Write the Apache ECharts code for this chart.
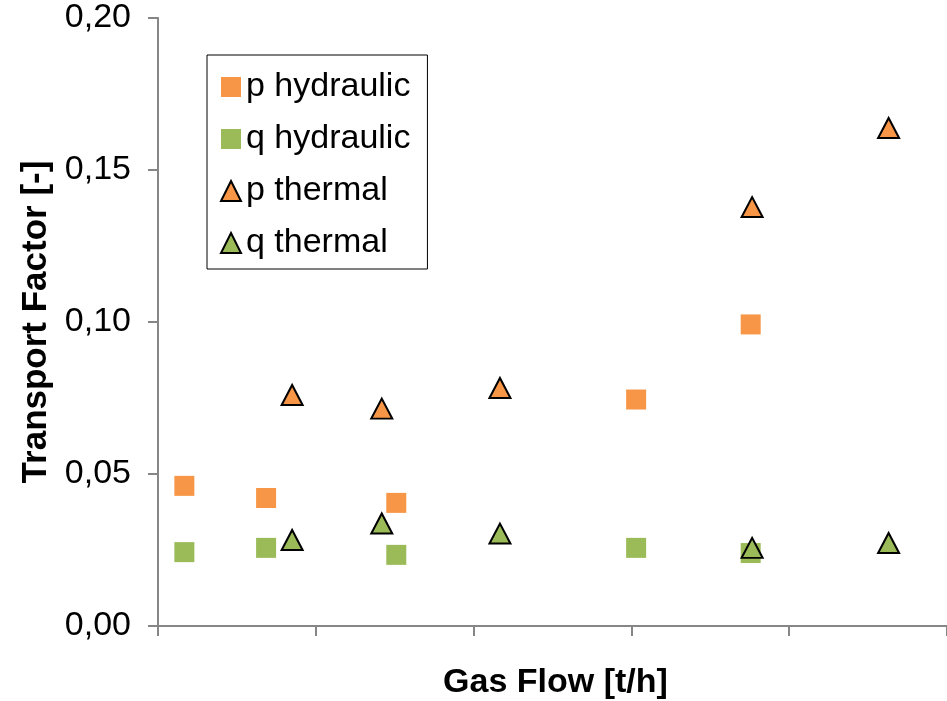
<!DOCTYPE html>
<html>
<head>
<meta charset="utf-8">
<script src="https://cdn.jsdelivr.net/npm/echarts@6/dist/echarts.min.js"></script>
<style>
html,body{margin:0;padding:0;background:#fff;}
#chart{width:947px;height:701px;}
</style>
</head>
<body>
<div id="chart"></div>
<script>
var seriesNames = ['p hydraulic', 'q hydraulic', 'p thermal', 'q thermal'];
var hydraulicX = [0.167, 0.685, 1.51, 3.03, 3.756];
var pHydraulic = [0.0461, 0.0421, 0.0405, 0.0745, 0.0992];
var qHydraulic = [0.0243, 0.0257, 0.0234, 0.0257, 0.0240];
var thermalX = [0.85, 1.418, 2.167, 3.765, 4.63];
var pThermal = [0.0760, 0.0715, 0.0783, 0.1378, 0.1638];
var qThermal = [0.0283, 0.0337, 0.0304, 0.0257, 0.0273];
var yTicks = ['0,00', '0,05', '0,10', '0,15', '0,20'];

function pairs(xs, ys) { return xs.map(function (x, i) { return [x, ys[i]]; }); }

var FONT = '"Liberation Sans", Arial, sans-serif';
var ORANGE = '#F79646', GREEN = '#9BBB59';

var chart = echarts.init(document.getElementById('chart'));
chart.setOption({
  animation: false,
  backgroundColor: '#fff',
  grid: { left: 158, right: 0, top: 18, bottom: 75, containLabel: false, outerBoundsMode: 'none' },
  legend: {
    orient: 'vertical', left: 207, top: 55,
    padding: [15, 17, 9, 13],
    borderColor: '#000', borderWidth: 1,
    itemWidth: 20, itemHeight: 20, itemGap: 18,
    textStyle: { fontFamily: FONT, fontSize: 34, color: '#000', lineHeight: 34 },
    data: [
      { name: seriesNames[0], icon: 'rect' },
      { name: seriesNames[1], icon: 'rect' },
      { name: seriesNames[2], icon: 'triangle' },
      { name: seriesNames[3], icon: 'triangle' }
    ]
  },
  xAxis: {
    type: 'value', min: 0, max: 5, interval: 1,
    name: 'Gas Flow [t/h]', nameLocation: 'middle', nameGap: 40,
    nameTextStyle: { fontFamily: FONT, fontSize: 34, fontWeight: 'bold', color: '#000', padding: [0, 0, 0, 6] },
    axisLine: { show: true, lineStyle: { color: '#868686', width: 2 } },
    axisTick: { show: true, inside: false, length: 10, lineStyle: { color: '#868686', width: 2 } },
    axisLabel: { show: false },
    splitLine: { show: false }
  },
  yAxis: {
    type: 'value', min: 0, max: 0.2, interval: 0.05,
    name: 'Transport Factor [-]', nameLocation: 'middle', nameGap: 98, nameRotate: 90,
    nameTextStyle: { fontFamily: FONT, fontSize: 35, fontWeight: 'bold', color: '#000' },
    axisLine: { show: true, lineStyle: { color: '#868686', width: 2 } },
    axisTick: { show: true, inside: false, length: 10, lineStyle: { color: '#868686', width: 2 } },
    axisLabel: {
      fontFamily: FONT, fontSize: 34, color: '#000', margin: 27,
      formatter: function (v) { return yTicks[Math.round(v / 0.05)]; }
    },
    splitLine: { show: false }
  },
  series: [
    { name: seriesNames[0], type: 'scatter', symbol: 'rect', symbolSize: 20,
      itemStyle: { color: ORANGE, opacity: 1 }, data: pairs(hydraulicX, pHydraulic) },
    { name: seriesNames[1], type: 'scatter', symbol: 'rect', symbolSize: 20,
      itemStyle: { color: GREEN, opacity: 1 }, data: pairs(hydraulicX, qHydraulic) },
    { name: seriesNames[2], type: 'scatter', symbol: 'triangle', symbolSize: [21, 20],
      itemStyle: { color: ORANGE, borderColor: '#000', borderWidth: 2, opacity: 1 }, data: pairs(thermalX, pThermal) },
    { name: seriesNames[3], type: 'scatter', symbol: 'triangle', symbolSize: [21, 20],
      itemStyle: { color: GREEN, borderColor: '#000', borderWidth: 2, opacity: 1 }, data: pairs(thermalX, qThermal) }
  ]
});
</script>
</body>
</html>
